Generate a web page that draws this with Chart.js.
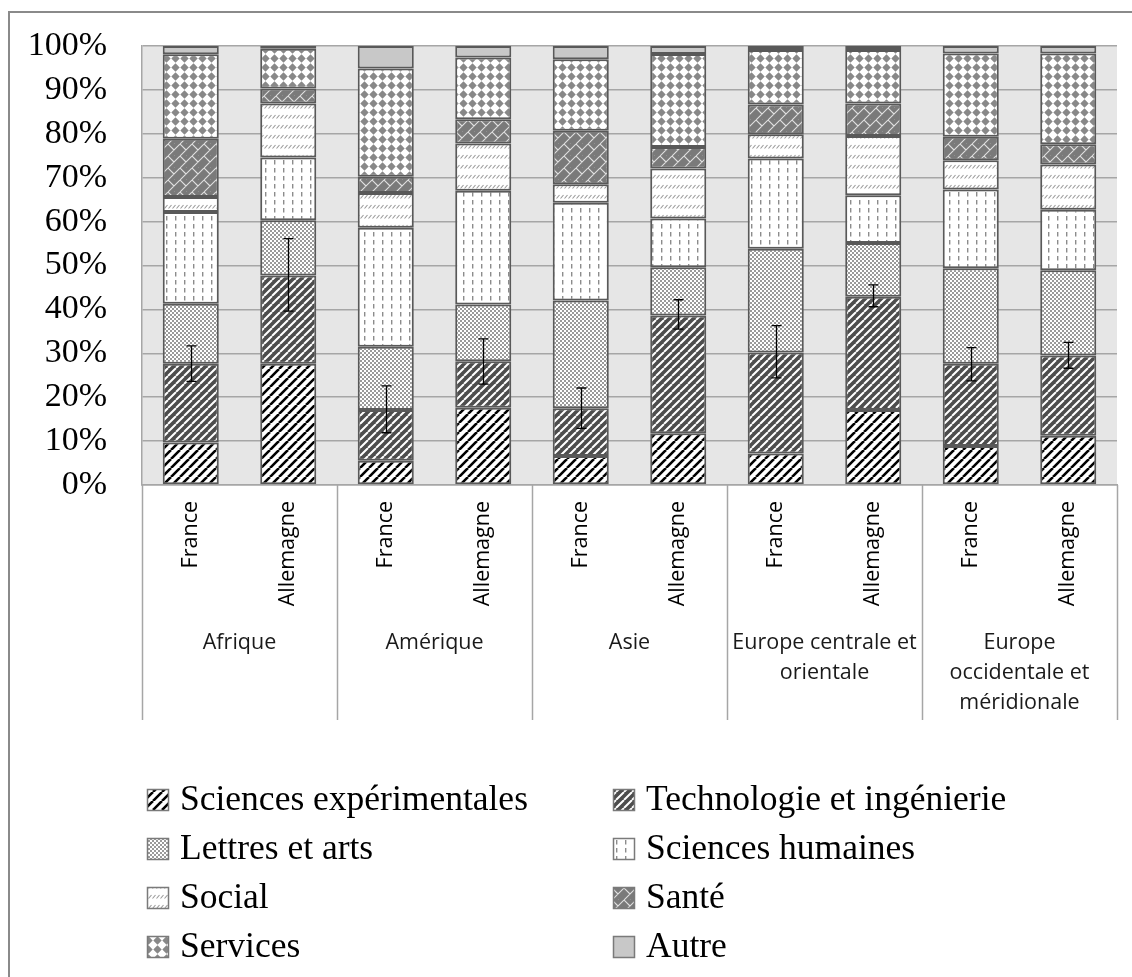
<!DOCTYPE html>
<html><head><meta charset="utf-8">
<script src="https://cdn.jsdelivr.net/npm/chart.js@4.4.1/dist/chart.umd.min.js"></script>
<style>html,body{margin:0;padding:0;background:#fff;}#wrap{position:relative;width:1132px;height:977px;}</style>
</head><body><div id="wrap"><canvas id="c" width="1132" height="977" style="width:1132px;height:977px"></canvas></div>
<script>
// ---- data ----
const countries = ["France", "Allemagne"];
const regions = [["Afrique"], ["Amérique"], ["Asie"], ["Europe centrale et", "orientale"], ["Europe", "occidentale et", "méridionale"]];
const categories = ["France","Allemagne","France","Allemagne","France","Allemagne","France","Allemagne","France","Allemagne"];
const yTickLabels = ["0%","10%","20%","30%","40%","50%","60%","70%","80%","90%","100%"];
const seriesNames = ["Sciences expérimentales","Technologie et ingénierie","Lettres et arts","Sciences humaines","Social","Santé","Services","Autre"];
const sciencesExp   = [9.7, 27.6, 5.5, 17.6, 6.6, 11.8, 7.2, 17.1, 8.9, 11.2];
const technologie   = [17.9, 20.1, 11.6, 10.6, 10.9, 26.8, 23.0, 25.8, 18.7, 18.3];
const lettresArts   = [13.7, 12.6, 14.4, 12.9, 24.5, 11.0, 23.6, 12.2, 21.8, 19.4];
const sciencesHum   = [20.9, 14.3, 27.1, 25.9, 22.3, 11.1, 20.6, 10.9, 17.9, 13.8];
const social        = [3.4, 12.3, 7.9, 10.8, 4.2, 11.4, 5.5, 13.5, 6.7, 10.3];
const sante         = [13.3, 3.4, 3.7, 5.5, 12.2, 4.9, 6.8, 7.4, 5.3, 4.6];
const services      = [19.2, 9.1, 24.7, 14.1, 16.3, 21.2, 12.4, 12.2, 19.0, 20.7];
const autre         = [1.9, 0.6, 5.1, 2.6, 3.0, 1.8, 0.9, 0.9, 1.7, 1.7];
// error bar ends (in %), around the top of "Technologie et ingénierie"
const errHigh = [31.7, 56.1, 22.6, 33.3, 22.1, 42.2, 36.3, 45.6, 31.3, 32.5];
const errLow  = [23.6, 39.6, 11.9, 23.0, 12.9, 35.5, 24.4, 40.6, 23.7, 26.6];

// ---- patterns ----
function tile(w, h, draw) {
  const c = document.createElement('canvas'); c.width = w; c.height = h;
  const g = c.getContext('2d'); draw(g, w, h);
  return document.getElementById('c').getContext('2d').createPattern(c, 'repeat');
}
function diag(g, s, color, lw) {
  g.strokeStyle = color; g.lineWidth = lw; g.beginPath();
  for (let k = -1; k <= 1; k++) { g.moveTo(k * s, s); g.lineTo(k * s + s, 0); }
  g.stroke();
}
const pSE = tile(9, 9, (g, w, h) => { g.fillStyle = '#fff'; g.fillRect(0,0,w,h); diag(g, 9, '#000', 2.6); });
const pTech = tile(8, 8, (g, w, h) => { g.fillStyle = '#4d4d4d'; g.fillRect(0,0,w,h); diag(g, 8, '#fff', 2.0); });
const pLet = tile(4, 4, (g, w, h) => { g.fillStyle = '#fff'; g.fillRect(0,0,w,h); g.fillStyle = '#9a9a9a'; g.fillRect(0,0,2,2); g.fillRect(2,2,2,2); });
const pSH = tile(9, 8, (g, w, h) => { g.fillStyle = '#fff'; g.fillRect(0,0,w,h); g.fillStyle = '#8c8c8c'; g.fillRect(4,0,1.4,4.5); });
const pSoc = tile(4, 10, (g, w, h) => { g.fillStyle = '#fff'; g.fillRect(0,0,w,h); g.strokeStyle = '#9a9a9a'; g.lineWidth = 1.1; g.beginPath(); g.moveTo(0.5, 8.5); g.lineTo(3.5, 5); g.stroke(); });
const pSante = tile(12, 12, (g, w, h) => {
  g.fillStyle = '#7a7a7a'; g.fillRect(0,0,w,h);
  g.strokeStyle = '#e0e0e0'; g.lineWidth = 1.1; g.beginPath();
  for (let k = -1; k <= 1; k++) { g.moveTo(k * 12, 12); g.lineTo(k * 12 + 12, 0); }
  g.moveTo(0, 0); g.lineTo(6, 6); g.moveTo(6, 12); g.lineTo(12, 18);
  g.moveTo(6, -6); g.lineTo(12, 0);
  g.stroke();
});
const pServ = tile(9, 9, (g, w, h) => {
  g.fillStyle = '#fff'; g.fillRect(0,0,w,h); g.fillStyle = '#888';
  g.beginPath(); g.moveTo(4.5, 0.3); g.lineTo(8.7, 4.5); g.lineTo(4.5, 8.7); g.lineTo(0.3, 4.5); g.closePath(); g.fill();
});
const fills = [pSE, pTech, pLet, pSH, pSoc, pSante, pServ, '#c8c8c8'];
const seriesData = [sciencesExp, technologie, lettresArts, sciencesHum, social, sante, services, autre];

// ---- plugins ----
const bgPlugin = {
  id: 'bg',
  beforeDraw(chart) {
    const { ctx, chartArea: a } = chart;
    ctx.save(); ctx.fillStyle = '#e6e6e6'; ctx.fillRect(a.left, a.top, a.right - a.left, a.bottom - a.top); ctx.restore();
  }
};
const errPlugin = {
  id: 'err',
  afterDatasetsDraw(chart) {
    const { ctx, scales: { x, y } } = chart;
    ctx.save(); ctx.strokeStyle = '#000'; ctx.lineWidth = 1.3;
    for (let i = 0; i < categories.length; i++) {
      const px = Math.round(x.getPixelForValue(i)) + 0.5;
      const yh = y.getPixelForValue(errHigh[i]), yl = y.getPixelForValue(errLow[i]);
      ctx.beginPath();
      ctx.moveTo(px, yh); ctx.lineTo(px, yl);
      ctx.moveTo(px - 5, yh); ctx.lineTo(px + 5, yh);
      ctx.moveTo(px - 5, yl); ctx.lineTo(px + 5, yl);
      ctx.stroke();
    }
    ctx.restore();
  }
};
const decoPlugin = {
  id: 'deco',
  afterDraw(chart) {
    const { ctx, chartArea: a, scales: { x } } = chart;
    ctx.save();
    // outer border
    ctx.strokeStyle = '#8a8a8a'; ctx.lineWidth = 2;
    ctx.strokeRect(9, 12, 1200, 1100);
    // group separators
    ctx.strokeStyle = '#a6a6a6'; ctx.lineWidth = 1.5;
    const bottomSep = a.bottom + 235;
    const bounds = [a.left];
    for (let k = 1; k < regions.length; k++) bounds.push((x.getPixelForValue(2 * k - 1) + x.getPixelForValue(2 * k)) / 2);
    bounds.push(a.right);
    ctx.beginPath();
    bounds.forEach(b => { const bx = Math.round(b) + 0.5; ctx.moveTo(bx, a.bottom); ctx.lineTo(bx, bottomSep); });
    ctx.stroke();
    // group labels
    ctx.fillStyle = '#1a1a1a'; ctx.font = '21.5px "Open Sans"'; ctx.textAlign = 'center'; ctx.textBaseline = 'middle';
    regions.forEach((lines, k) => {
      const cx = (x.getPixelForValue(2 * k) + x.getPixelForValue(2 * k + 1)) / 2;
      lines.forEach((t, j) => ctx.fillText(t, cx, a.bottom + 158 + j * 30));
    });
    // legend (two columns)
    ctx.font = '35.5px "Liberation Serif"'; ctx.textAlign = 'left'; ctx.fillStyle = '#000';
    const colX = [147, 613], rowY0 = 800, rowH = 49, box = 22;
    seriesNames.forEach((name, i) => {
      const c = i % 2, r = Math.floor(i / 2);
      const bx = colX[c], by = rowY0 + r * rowH;
      ctx.fillStyle = fills[i]; ctx.fillRect(bx, by - box / 2, box, box);
      ctx.strokeStyle = '#7a7a7a'; ctx.lineWidth = 1.5; ctx.strokeRect(bx + 0.5, by - box / 2 + 0.5, box - 1, box - 1);
      ctx.fillStyle = '#000'; ctx.fillText(name, bx + 33, by + 1);
    });
    ctx.restore();
  }
};

new Chart(document.getElementById('c'), {
  type: 'bar',
  data: {
    labels: categories,
    datasets: seriesNames.map((n, i) => ({
      label: n, data: seriesData[i], backgroundColor: fills[i],
      borderColor: '#595959', borderWidth: 2, borderSkipped: false,
      categoryPercentage: 1.0, barPercentage: 0.575
    }))
  },
  options: {
    responsive: false, animation: false, devicePixelRatio: 1,
    layout: { padding: { left: 9, top: 46, right: 15, bottom: 257 } },
    plugins: { legend: { display: false }, tooltip: { enabled: false } },
    scales: {
      x: {
        stacked: true,
        grid: { display: false, drawTicks: false },
        border: { display: true, color: '#a6a6a6', width: 1.5 },
        ticks: { autoSkip: false, minRotation: 90, maxRotation: 90, padding: 16, color: '#000', font: { family: 'Open Sans', size: 21.5 } },
        afterFit(s) { s.height = 235; s.paddingLeft = 0; s.paddingRight = 0; }
      },
      y: {
        stacked: true, min: 0, max: 100,
        grid: { color: '#a6a6a6', lineWidth: 1.5, drawTicks: false },
        border: { display: true, color: '#a6a6a6', width: 1.5 },
        ticks: { autoSkip: false, stepSize: 10, padding: 35, color: '#000', font: { family: 'Liberation Serif', size: 34, lineHeight: 1.0 },
          callback: (v, i) => yTickLabels[i] },
        afterFit(s) { s.width = 133; s.paddingTop = 0; s.paddingBottom = 0; }
      }
    }
  },
  plugins: [bgPlugin, errPlugin, decoPlugin]
});
</script></body></html>
